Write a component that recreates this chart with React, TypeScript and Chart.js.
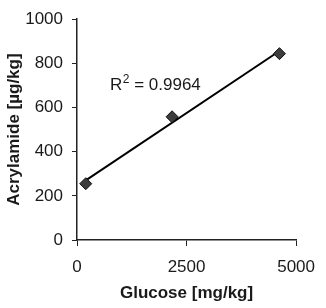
import React, { useEffect, useRef } from "react";
import { Chart, registerables } from "chart.js";

Chart.register(...registerables);

const glucose = [200, 2170, 4620];
const acrylamide = [255, 558, 844];
const xTicks = [0, 2500, 5000];
const yTicks = [0, 200, 400, 600, 800, 1000];
const xTitle = "Glucose [mg/kg]";
const yTitle = "Acrylamide [µg/kg]";
const r2Value = "0.9964";

function linearFit(xs: number[], ys: number[]) {
  const n = xs.length;
  const mx = xs.reduce((a, b) => a + b, 0) / n;
  const my = ys.reduce((a, b) => a + b, 0) / n;
  let sxy = 0;
  let sxx = 0;
  for (let i = 0; i < n; i++) {
    sxy += (xs[i] - mx) * (ys[i] - my);
    sxx += (xs[i] - mx) * (xs[i] - mx);
  }
  const slope = sxy / sxx;
  return { slope, intercept: my - slope * mx };
}

const FONT = "'Liberation Sans', Arial, sans-serif";

const r2Plugin = {
  id: "r2label",
  afterDatasetsDraw(chart: any) {
    const { ctx, chartArea } = chart;
    ctx.save();
    ctx.fillStyle = "#1a1a1a";
    ctx.textBaseline = "alphabetic";
    ctx.textAlign = "left";
    let x = chartArea.left + 33;
    const y = chartArea.top + 71;
    ctx.font = `17px ${FONT}`;
    ctx.fillText("R", x, y);
    x += ctx.measureText("R").width;
    ctx.font = `12px ${FONT}`;
    ctx.fillText("2", x + 0.5, y - 7);
    x += ctx.measureText("2").width + 0.5;
    ctx.font = `17px ${FONT}`;
    ctx.fillText(" = " + r2Value, x, y);
    ctx.restore();
  },
};

export default function App() {
  const ref = useRef<HTMLCanvasElement | null>(null);
  useEffect(() => {
    if (!ref.current) return;
    const fit = linearFit(glucose, acrylamide);
    const xmin = Math.min(...glucose);
    const xmax = Math.max(...glucose);
    const points = glucose.map((g, i) => ({ x: g, y: acrylamide[i] }));
    const trend = [
      { x: xmin, y: fit.intercept + fit.slope * xmin },
      { x: xmax, y: fit.intercept + fit.slope * xmax },
    ];
    const chart = new Chart(ref.current, {
      type: "scatter",
      data: {
        datasets: [
          {
            data: trend,
            showLine: true,
            borderColor: "#000",
            borderWidth: 2,
            pointRadius: 0,
            order: 2,
          },
          {
            data: points,
            pointStyle: "rectRot",
            pointRadius: 6,
            backgroundColor: "#3c3c3c",
            borderColor: "#111",
            borderWidth: 1,
            order: 1,
          },
        ],
      },
      options: {
        responsive: false,
        animation: false,
        plugins: { legend: { display: false }, tooltip: { enabled: false } },
        layout: { padding: { top: 17, right: 25, left: 0, bottom: 0 } },
        scales: {
          x: {
            type: "linear",
            min: 0,
            max: 5000,
            afterBuildTicks: (s: any) => {
              s.ticks = xTicks.map((v) => ({ value: v }));
            },
            afterFit: (s: any) => {
              s.height = 68;
            },
            ticks: {
              color: "#1a1a1a",
              font: { family: FONT, size: 17 },
              padding: 11,
              maxRotation: 0,
              callback: (v: any) => String(v),
            },
            grid: {
              drawOnChartArea: false,
              drawTicks: true,
              tickLength: 6,
              color: "#222",
            },
            border: { color: "#222", width: 1.5 },
            title: {
              display: true,
              text: xTitle,
              color: "#1a1a1a",
              font: { family: FONT, size: 17, weight: "bold" },
              padding: { top: 4, bottom: 4 },
            },
          },
          y: {
            type: "linear",
            min: 0,
            max: 1000,
            afterBuildTicks: (s: any) => {
              s.ticks = yTicks.map((v) => ({ value: v }));
            },
            afterFit: (s: any) => {
              s.width = 77;
            },
            ticks: {
              color: "#1a1a1a",
              font: { family: FONT, size: 17 },
              padding: 9,
              callback: (v: any) => String(v),
            },
            grid: {
              drawOnChartArea: false,
              drawTicks: true,
              tickLength: 5,
              color: "#222",
            },
            border: { color: "#222", width: 1.5 },
            title: {
              display: true,
              text: yTitle,
              color: "#1a1a1a",
              font: { family: FONT, size: 17, weight: "bold" },
              padding: { top: 4, bottom: 4 },
            },
          },
        },
      },
      plugins: [r2Plugin],
    } as any);
    return () => chart.destroy();
  }, []);
  return (
    <div style={{ position: "absolute", left: 0, top: 0, width: 326, height: 308, background: "#fff" }}>
      <canvas ref={ref} width={326} height={308} />
    </div>
  );
}
